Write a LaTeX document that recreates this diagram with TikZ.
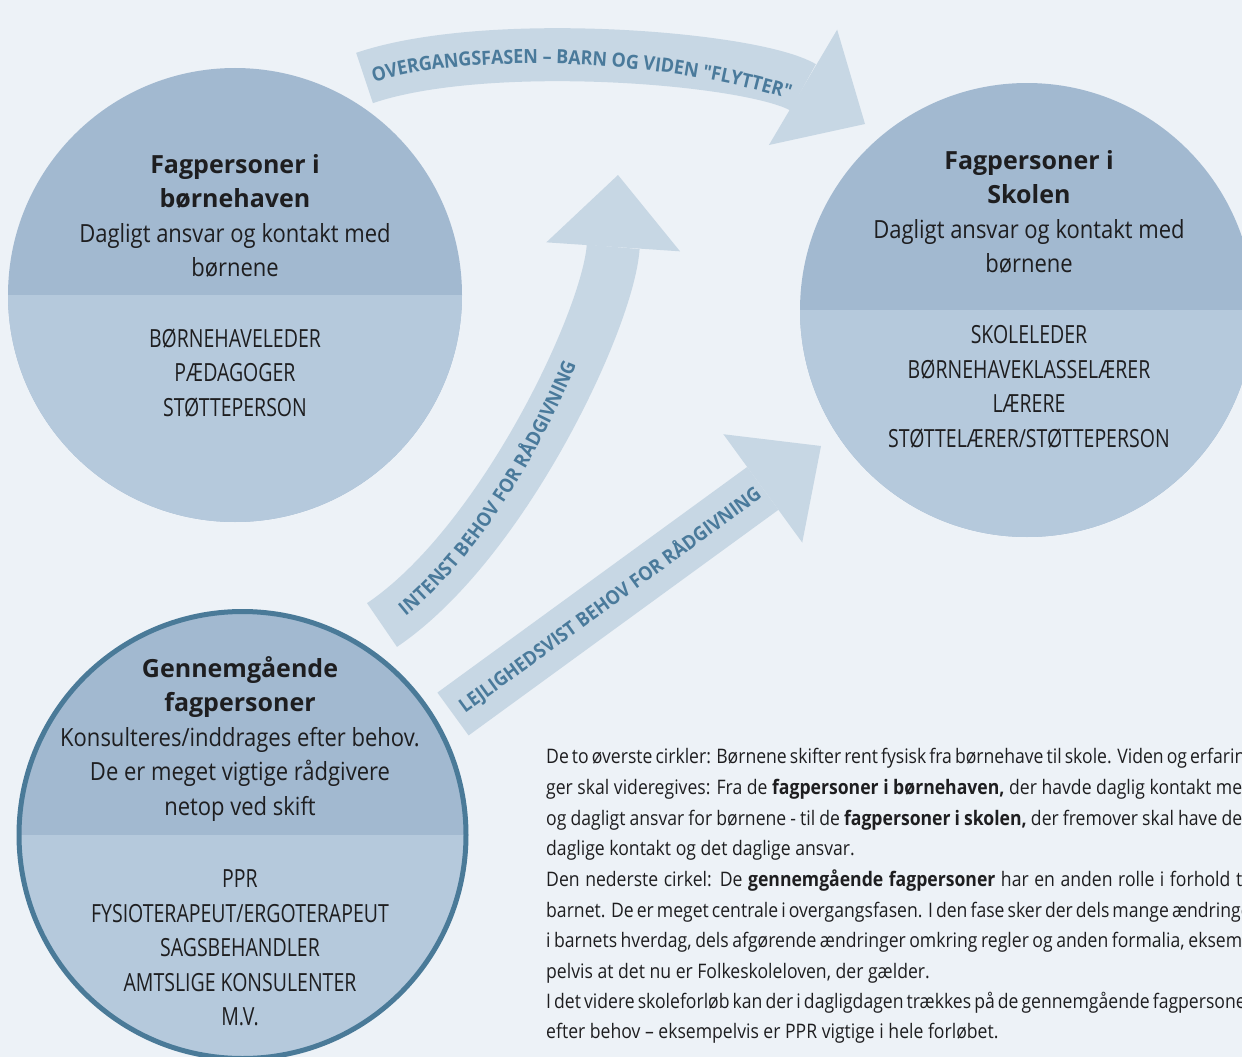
\documentclass[tikz,border=0pt]{standalone}
\usepackage{fontspec}
\setmainfont{Open Sans}[FakeStretch=0.88]
\newfontfamily\flowfont{Open Sans}[FakeStretch=0.92]
\newfontfamily\headfont{Open Sans}
\newfontfamily\staffont{Open Sans}[FakeStretch=0.78]
\usepackage{tikz}
\usetikzlibrary{arrows.meta}
\usetikzlibrary{decorations.text}
\usetikzlibrary{positioning}

\definecolor{pagebg}{RGB}{237,242,247}
\definecolor{ringtop}{RGB}{162,185,208}
\definecolor{ringlow}{RGB}{181,201,220}
\definecolor{ringedge}{RGB}{74,122,152}
\definecolor{flowfill}{RGB}{199,215,228}
\definecolor{flowtext}{RGB}{74,122,155}
\definecolor{inktext}{RGB}{30,30,32}

\newcommand{\headline}[1]{{\headfont\bfseries #1}}

\tikzset{
	flow/.style={draw=flowfill, line width=53pt, -{Triangle[length=72pt, width=134pt, line width=0pt]}},
	flowlabel/.style={decorate, decoration={text along path, text color=flowtext, raise=-7pt,
	                  text={|\flowfont\bfseries\fontsize{19.5}{19.5}\selectfont|#1}}}
}

\begin{document}
\begin{tikzpicture}[x=1pt, y=-1pt]
	\useasboundingbox (0,0) rectangle (1242,1057);
	\clip (0,0) rectangle (1242,1057);
	\fill[pagebg] (0,0) rectangle (1242,1057);

	\begin{scope}[every node/.style={circle, inner sep=0pt, fill=ringtop, minimum size=454pt,
	              path picture={\fill[ringlow] (path picture bounding box.west) rectangle (path picture bounding box.south east);}}]
		\node (kiga) at (235,295) {};
		\node (skole) at (1027,310) {};
		\node[minimum size=447pt, draw=ringedge, line width=5pt] (gennem) at (242.5,835) {};
	\end{scope}

	\coordinate (overA) at (364.5,78);
	\coordinate (overB) at (865,124);
	\coordinate (intA) at (382,625);
	\coordinate (intB) at (618,175);
	\coordinate (lejA) at (453,714);
	\coordinate (lejB) at (821,446);

	\begin{scope}
		\draw[flow] (overA) .. controls (487.6,36.1) and (753.1,57.8) .. (overB);
		\draw[flow] (intA) .. controls (502.2,543.9) and (608.3,319.3) .. (intB);
		\draw[flow] (lejA) -- (lejB);

		\path[flowlabel={OVERGANGSFASEN – BARN OG VIDEN "FLYTTER"}, decoration={text align={left indent=8pt}}]
			(overA) .. controls (487.6,36.1) and (753.1,57.8) .. (overB);
		\path[flowlabel={INTENST BEHOV FOR RÅDGIVNING}, decoration={text align={left indent=24pt}}]
			(intA) .. controls (502.2,543.9) and (608.3,319.3) .. (intB);
		\path[flowlabel={LEJLIGHEDSVIST BEHOV FOR RÅDGIVNING}, decoration={text align={left indent=10pt}}]
			(lejA) -- (lejB);
	\end{scope}

	\begin{scope}[every node/.style={align=center, text=inktext, font=\fontsize{25}{34.5}\selectfont}]
		\node (kigaHead) at (235,216) {\headline{Fagpersoner i}\\\headline{børnehaven}\\Dagligt ansvar og kontakt med\\børnene};
		\node[font=\staffont\fontsize{25}{34.5}\selectfont] (kigaStaff) at (235,373) {BØRNEHAVELEDER\\PÆDAGOGER\\STØTTEPERSON};
		\node (skoleHead) at (1029,212) {\headline{Fagpersoner i}\\\headline{Skolen}\\Dagligt ansvar og kontakt med\\børnene};
		\node[font=\staffont\fontsize{25}{34.5}\selectfont] (skoleStaff) at (1029,387) {SKOLELEDER\\BØRNEHAVEKLASSELÆRER\\LÆRERE\\STØTTELÆRER/STØTTEPERSON};
		\node (gennemHead) at (240,739) {\headline{Gennemgående}\\\headline{fagpersoner}\\Konsulteres/inddrages efter behov.\\De er meget vigtige rådgivere\\netop ved skift};
		\node[font=\staffont\fontsize{25}{34.5}\selectfont] (gennemStaff) at (240,948) {PPR\\FYSIOTERAPEUT/ERGOTERAPEUT\\SAGSBEHANDLER\\AMTSLIGE KONSULENTER\\M.V.};
	\end{scope}

	\begin{scope}[every node/.style={anchor=base west, inner sep=0pt, text=inktext, font=\fontsize{20}{30.5}\selectfont}]
		\node (note1) at (546,763) {\makebox[696pt][s]{De to øverste cirkler: Børnene skifter rent fysisk fra børnehave til skole. Viden og erfarin}};
		\node (note2) at (546,794) {\makebox[696pt][s]{ger skal videregives: Fra de \textbf{fagpersoner i børnehaven,} der havde daglig kontakt me}};
		\node (note3) at (546,825) {\makebox[696pt][s]{og dagligt ansvar for børnene - til de \textbf{fagpersoner i skolen,} der fremover skal have de}};
		\node (note4) at (546,855) {daglige kontakt og det daglige ansvar.};
		\node (note5) at (546,886) {\makebox[696pt][s]{Den nederste cirkel: De \textbf{gennemgående fagpersoner} har en anden rolle i forhold t}};
		\node (note6) at (546,917) {\makebox[696pt][s]{barnet. De er meget centrale i overgangsfasen. I den fase sker der dels mange ændringe}};
		\node (note7) at (546,947) {\makebox[696pt][s]{i barnets hverdag, dels afgørende ændringer omkring regler og anden formalia, eksem}};
		\node (note8) at (546,978) {pelvis at det nu er Folkeskoleloven, der gælder.};
		\node (note9) at (546,1008) {\makebox[696pt][s]{I det videre skoleforløb kan der i dagligdagen trækkes på de gennemgående fagpersone}};
		\node (note10) at (546,1038) {efter behov – eksempelvis er PPR vigtige i hele forløbet.};
	\end{scope}
\end{tikzpicture}
\end{document}
